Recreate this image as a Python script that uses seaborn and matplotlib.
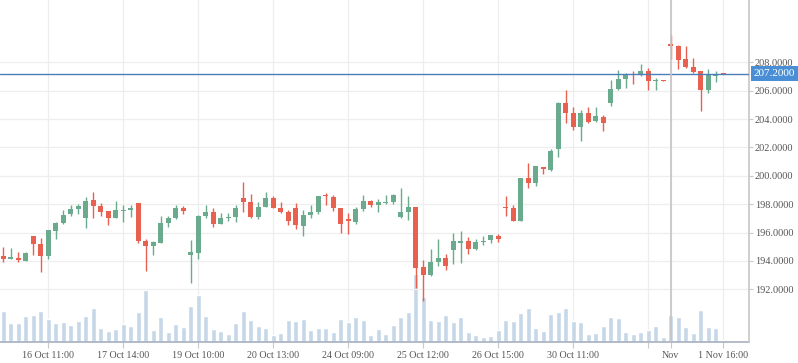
import numpy as np
import pandas as pd
import matplotlib
matplotlib.use("Agg")
import matplotlib.pyplot as plt
import matplotlib.transforms as mtransforms
import seaborn as sns

# OHLC per bar
opens = [194.36, 194.17, 194.22, 194.01, 195.77, 195.20, 194.36, 196.14, 196.71, 197.32,
         197.69, 197.04, 198.31, 197.88, 197.53, 197.04, 197.53, 197.60, 198.09, 195.42,
         195.06, 195.28, 196.68, 197.04, 197.74, 194.43, 194.57, 197.18, 197.46, 196.64,
         197.04, 197.11, 198.45, 198.17, 197.11, 197.82, 198.45, 197.74, 197.46, 197.74,
         196.48, 197.25, 197.46, 198.66, 198.52, 197.74, 196.97, 196.76, 197.67, 198.24,
         197.96, 198.10, 198.17, 197.11, 197.46, 197.81, 193.59, 193.03, 193.94, 194.22,
         194.79, 195.28, 195.42, 194.86, 195.35, 195.49, 195.77, 197.81, 197.74, 196.83,
         199.84, 199.51, 200.61, 200.42, 201.91, 205.13, 204.42, 203.46, 204.42, 203.88,
         204.14, 205.15, 206.12, 206.82, 207.18, 207.11, 207.39, 206.71, 206.75, 209.29,
         209.15, 208.24, 207.67, 207.39, 206.05, 207.04, 207.22]
highs = [194.99, 194.92, 194.64, 194.64, 195.77, 195.63, 196.19, 196.76, 197.60, 197.95,
         198.02, 198.52, 198.87, 198.09, 197.53, 198.23, 197.95, 197.95, 198.09, 195.56,
         195.42, 197.18, 197.18, 197.95, 197.88, 195.49, 197.25, 197.96, 197.74, 197.39,
         197.39, 197.96, 199.58, 198.73, 198.17, 198.87, 198.59, 198.17, 197.60, 198.10,
         197.60, 197.96, 198.59, 198.80, 198.66, 197.74, 197.39, 197.81, 198.66, 198.31,
         198.38, 198.66, 198.73, 199.16, 198.59, 197.81, 194.08, 194.86, 195.56, 194.50,
         195.98, 196.12, 195.70, 195.56, 195.77, 195.84, 195.91, 198.59, 197.96, 199.84,
         200.89, 200.68, 200.61, 201.88, 205.20, 206.05, 204.85, 204.64, 204.85, 204.85,
         204.28, 206.75, 207.46, 207.25, 207.39, 207.88, 207.60, 206.92, 206.75, 209.93,
         209.22, 209.15, 208.31, 207.39, 207.53, 207.39, 207.22]
lows = [193.96, 194.17, 193.94, 194.01, 194.43, 193.25, 194.17, 195.56, 196.64, 197.18,
        197.32, 196.33, 197.04, 197.18, 196.54, 197.04, 196.75, 197.11, 195.28, 193.30,
        194.43, 195.28, 196.40, 196.97, 197.32, 192.46, 194.15, 197.04, 196.36, 196.64,
        196.83, 196.76, 197.46, 197.04, 196.97, 197.82, 197.74, 197.39, 196.55, 196.27,
        195.77, 197.04, 197.32, 197.96, 197.53, 195.98, 195.91, 196.62, 197.53, 197.81,
        197.46, 198.03, 198.03, 197.04, 196.86, 192.11, 191.19, 192.96, 193.66, 193.38,
        193.80, 193.87, 194.50, 194.79, 195.14, 195.28, 195.35, 197.18, 196.83, 196.83,
        199.15, 199.29, 200.14, 200.35, 201.32, 203.74, 203.25, 202.47, 203.74, 203.81,
        203.18, 204.94, 206.05, 206.19, 206.47, 207.04, 206.05, 206.05, 206.71, 208.24,
        207.53, 207.60, 207.25, 204.56, 205.84, 206.61, 207.20]
closes = [194.17, 194.29, 194.08, 194.57, 195.23, 194.36, 196.19, 196.71, 197.25, 197.67,
          197.88, 198.23, 197.88, 197.46, 197.04, 197.60, 197.60, 197.74, 195.42, 195.06,
          195.35, 196.68, 197.04, 197.74, 197.53, 194.64, 197.18, 197.46, 196.64, 197.04,
          197.11, 197.74, 198.17, 197.11, 197.82, 198.45, 197.74, 197.46, 196.83, 196.55,
          197.25, 197.46, 198.59, 198.59, 197.74, 196.62, 196.83, 197.67, 198.24, 197.96,
          198.17, 198.17, 198.66, 197.46, 197.81, 193.52, 193.03, 193.94, 194.22, 193.66,
          195.42, 195.42, 194.86, 195.35, 195.42, 195.84, 195.56, 197.74, 196.83, 199.84,
          199.51, 200.68, 200.47, 201.74, 205.13, 204.45, 203.46, 204.42, 203.81, 204.21,
          203.74, 206.12, 206.82, 207.18, 207.11, 207.39, 206.68, 206.78, 206.71, 209.18,
          208.16, 207.67, 207.32, 206.05, 207.11, 207.11, 207.20]
volumes = [31, 19, 19, 26, 27, 31, 23, 19, 20, 17, 21, 26, 34, 14, 11, 13, 18, 16, 30, 52,
           12, 25, 10, 18, 15, 36, 47, 26, 13, 11, 8, 19, 31, 22, 16, 14, 7, 9, 22, 21,
           23, 12, 14, 14, 10, 23, 20, 25, 22, 7, 13, 8, 17, 25, 30, 68, 45, 22, 21, 27,
           20, 25, 10, 7, 5, 6, 12, 22, 21, 29, 34, 14, 11, 28, 30, 34, 21, 20, 8, 9,
           16, 25, 24, 10, 8, 10, 12, 16, 5, 27, 25, 15, 9, 32, 15, 14, 2]

tick_pos = [6, 16, 26, 36, 46, 56, 66, 76, 86, 89, 96]
tick_labels = ["16 Oct 11:00", "17 Oct 14:00", "19 Oct 10:00", "20 Oct 13:00",
               "24 Oct 09:00", "25 Oct 12:00", "26 Oct 15:00", "30 Oct 11:00",
               "", "Nov", "1 Nov 16:00"]
price_ticks = [192, 194, 196, 198, 200, 202, 204, 206, 208]
last_price = 207.2
cross_idx = 89

df = pd.DataFrame({"open": opens, "high": highs, "low": lows,
                   "close": closes, "volume": volumes})
df["idx"] = np.arange(len(df))

sns.set_theme(style="white")
plt.rcParams["font.family"] = ["Liberation Serif", "DejaVu Serif"]

UP = "#6aab8e"
DOWN = "#e8604f"
VOL = "#c6d7e8"
GRID = "#eeeeee"
TXT = "#555555"
BAR_W = 0.7

fig = plt.figure(figsize=(7.98, 3.63), dpi=100)
ax_vol = fig.add_axes([0, 0.057, 0.939, 0.943])
ax = ax_vol.twinx()

# volume bars in the bottom, 1 unit ~ 1 px
sns.barplot(data=df, x="idx", y="volume", native_scale=True, width=BAR_W,
            color=VOL, saturation=1, errorbar=None, ax=ax_vol)
# make bar widths match the candle bodies
for p in ax_vol.patches:
    cx = p.get_x() + p.get_width() / 2
    p.set_width(BAR_W)
    p.set_x(cx - BAR_W / 2)
ax_vol.set_ylim(0, 342.3)
ax_vol.set_yticks([])
ax_vol.set_xlabel("")
ax_vol.set_ylabel("")
ax_vol.set_axisbelow(True)
ax_vol.grid(True, axis="x", color=GRID, lw=0.9)

# candles
up = df["close"] >= df["open"]
colors = np.where(up, UP, DOWN)
body_lo = np.minimum(df["open"], df["close"])
body_h = np.maximum((df["close"] - df["open"]).abs(), 0.07)
ax.vlines(df["idx"], df["low"], df["high"], colors=colors, lw=1, zorder=3)
ax.bar(df["idx"], body_h, bottom=body_lo, width=0.68, color=colors, zorder=4, linewidth=0)

ax.set_ylim(188.27, 212.39)
ax.set_xlim(-0.44, 99.47)
ax.set_yticks(price_ticks)
ax.set_yticklabels([f"{p:.4f}" for p in price_ticks])
ax.grid(True, axis="y", color=GRID, lw=0.9)
ax.set_axisbelow(True)

ax_vol.set_xticks(tick_pos)
ax_vol.set_xticklabels(tick_labels)

ax.axhline(last_price, color="#4a7fbc", lw=1, zorder=5)
ax.axvline(cross_idx, color="#c4c4c4", lw=1.2, zorder=5)

trans = mtransforms.blended_transform_factory(ax.transAxes, ax.transData)
ax.text(1.006, last_price, f"{last_price:.4f}", transform=trans, ha="left", va="center",
        color="white", fontsize=8, clip_on=False, zorder=6,
        bbox=dict(boxstyle="square,pad=0.28", fc="#4a8fd6", ec="none"))

for a in (ax, ax_vol):
    for s in ("top", "left"):
        a.spines[s].set_visible(False)
ax_vol.spines["right"].set_visible(False)
ax.spines["bottom"].set_visible(False)
ax_vol.spines["bottom"].set_color("#aab4c0")
ax.spines["right"].set_color("#c8c8c8")

ax.tick_params(axis="y", which="both", right=True, length=3, width=0.8, color="#c8c8c8",
               labelsize=7.4, labelcolor=TXT, pad=1)
ax_vol.tick_params(axis="x", bottom=True, length=4, width=0.8, color="#c8c8c8",
                   labelsize=7.2, labelcolor=TXT, pad=2)

fig.savefig("out.png", dpi=100)
